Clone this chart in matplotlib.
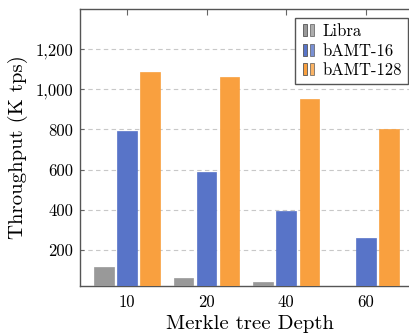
import matplotlib
matplotlib.use("Agg")
import matplotlib.pyplot as plt
import numpy as np
from matplotlib.legend_handler import HandlerBase
from matplotlib.patches import Rectangle
from matplotlib.ticker import FixedLocator, FixedFormatter

categories = ["10", "20", "40", "60"]
series_names = ["Libra", "bAMT-16", "bAMT-128"]
libra = [115, 60, 40, 0]
bamt16 = [790, 590, 395, 260]
bamt128 = [1085, 1060, 950, 800]
ytick_vals = [200, 400, 600, 800, 1000, 1200]
ytick_labels = ["200", "400", "600", "800", "1,000", "1,200"]

colors = ["#999999", "#5874c8", "#f9a03f"]

plt.rcParams["font.family"] = ["cmr10", "DejaVu Serif"]
plt.rcParams["axes.formatter.use_mathtext"] = True

fig = plt.figure(figsize=(4.09, 3.35), dpi=100)
ax = fig.add_axes([80/409, 49/335, 340/409, 277/335])

x = np.arange(len(categories))
offsets = [-0.29, 0.0, 0.29]
width = 0.245
handles = []
for vals, off, c, name in zip([libra, bamt16, bamt128], offsets, colors, series_names):
    b = ax.bar(x + off, vals, width, color=c, edgecolor=c, linewidth=0.5, label=name, zorder=3)
    handles.append(b)

ax.set_xlim(-0.59, 3.68)
ax.set_ylim(20, 1400)
ax.set_xticks(x)
ax.set_xticklabels(categories, fontsize=12)
ax.yaxis.set_major_locator(FixedLocator(ytick_vals))
ax.yaxis.set_major_formatter(FixedFormatter(ytick_labels))
ax.tick_params(axis="y", labelsize=12, direction="in", length=3, color="#666666", pad=5)
ax.tick_params(axis="x", direction="in", length=4, top=True, color="#666666", pad=6)
ax.grid(axis="y", linestyle=(0, (4, 3)), color="#c8c8c8", linewidth=0.8, zorder=0)
for s in ax.spines.values():
    s.set_color("#555555")
    s.set_linewidth(1.0)
ax.spines["right"].set_visible(False)

ax.set_ylabel("Throughput (K tps)", fontsize=15, labelpad=5)
ax.set_xlabel("Merkle tree Depth", fontsize=15, labelpad=4)


class TwoBarHandler(HandlerBase):
    def __init__(self, color):
        super().__init__()
        self.color = color

    def create_artists(self, legend, orig_handle, xdescent, ydescent, width, height, fontsize, trans):
        w = width * 0.2
        h = height * 1.0
        y0 = -ydescent
        r1 = Rectangle((-xdescent + width * 0.1, y0), w, h, facecolor=self.color,
                       edgecolor="#555555", linewidth=0.6, transform=trans)
        r2 = Rectangle((-xdescent + width * 0.5, y0), w, h, facecolor=self.color,
                       edgecolor="#555555", linewidth=0.6, transform=trans, alpha=0.8)
        return [r1, r2]


hmap = {h: TwoBarHandler(c) for h, c in zip(handles, colors)}
leg = fig.legend(handles, series_names, handler_map=hmap,
                 loc="upper right", bbox_to_anchor=(408/409, 1 - 18/335),
                 fontsize=12, frameon=True, fancybox=False, handlelength=1.1,
                 handletextpad=0.2, borderpad=0.35, labelspacing=0.25,
                 borderaxespad=0)
leg.get_frame().set_edgecolor("#555555")
leg.get_frame().set_linewidth(1.0)
leg.get_frame().set_alpha(1.0)
for t in leg.get_texts():
    t.set_ha("center")

fig.savefig("out.png", dpi=100)
